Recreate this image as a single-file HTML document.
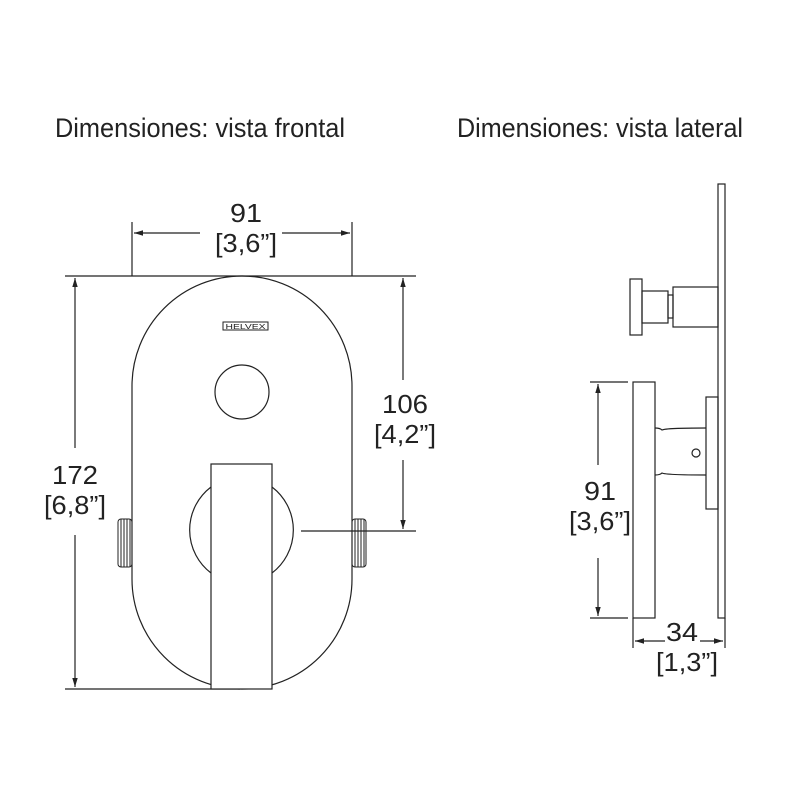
<!DOCTYPE html>
<html><head><style>body{margin:0;background:#fff}svg{display:block}</style></head>
<body>
<svg width="800" height="800" viewBox="0 0 800 800" xmlns="http://www.w3.org/2000/svg" font-family="Liberation Sans, sans-serif" fill="none" stroke="#222" stroke-width="1.2">
<defs>
<marker id="a" viewBox="0 0 10 10" refX="10" refY="5" markerWidth="9" markerHeight="9" orient="auto-start-reverse" markerUnits="userSpaceOnUse"><path d="M0,2 L10,5 L0,8 Z" fill="#222" stroke="none"/></marker>
</defs>
<g fill="#222" stroke="none" font-size="27">
<text x="55" y="137" textLength="290" lengthAdjust="spacingAndGlyphs">Dimensiones: vista frontal</text>
<text x="457" y="137" textLength="286" lengthAdjust="spacingAndGlyphs">Dimensiones: vista lateral</text>
</g>
<!-- front view -->
<rect x="132" y="276" width="220" height="413" rx="110" ry="110"/>
<line x1="132" y1="222" x2="132" y2="276"/><line x1="352" y1="222" x2="352" y2="276"/>
<line x1="134" y1="233" x2="200" y2="233" marker-start="url(#a)"/>
<line x1="282" y1="233" x2="350" y2="233" marker-end="url(#a)"/>
<line x1="65" y1="276" x2="416" y2="276"/>
<line x1="65" y1="689" x2="240" y2="689"/>
<line x1="75" y1="278" x2="75" y2="448" marker-start="url(#a)"/>
<line x1="75" y1="535" x2="75" y2="687" marker-end="url(#a)"/>
<line x1="403" y1="278" x2="403" y2="380" marker-start="url(#a)"/>
<line x1="403" y1="460" x2="403" y2="529" marker-end="url(#a)"/>
<line x1="301" y1="531" x2="416" y2="531"/>
<rect x="223" y="322" width="45" height="8" stroke-width="1"/>
<text x="245.5" y="329" font-size="7" fill="#222" stroke="none" text-anchor="middle" textLength="40" lengthAdjust="spacingAndGlyphs">HELVEX</text>
<circle cx="242" cy="392" r="27"/>
<path d="M211,487 A54,54 0 0 0 211,573"/><path d="M272,487 A54,54 0 0 1 272,573"/>
<rect x="211" y="464" width="61" height="225" fill="#fff"/>
<g stroke-width="1">
<rect x="118" y="519" width="14" height="48" rx="3"/>
<line x1="121" y1="519" x2="121" y2="567"/><line x1="124" y1="519" x2="124" y2="567"/><line x1="127" y1="519" x2="127" y2="567"/><line x1="130" y1="519" x2="130" y2="567"/>
<rect x="352" y="519" width="14" height="48" rx="3"/>
<line x1="355" y1="519" x2="355" y2="567"/><line x1="358" y1="519" x2="358" y2="567"/><line x1="361" y1="519" x2="361" y2="567"/><line x1="364" y1="519" x2="364" y2="567"/>
</g>
<g fill="#222" stroke="none" font-size="26" text-anchor="middle" lengthAdjust="spacingAndGlyphs">
<text x="246" y="222" textLength="32" lengthAdjust="spacingAndGlyphs">91</text><text x="246" y="252" textLength="62" lengthAdjust="spacingAndGlyphs">[3,6”]</text>
<text x="75" y="484" textLength="46" lengthAdjust="spacingAndGlyphs">172</text><text x="75" y="514" textLength="62" lengthAdjust="spacingAndGlyphs">[6,8”]</text>
<text x="405" y="413" textLength="46" lengthAdjust="spacingAndGlyphs">106</text><text x="405" y="443" textLength="62" lengthAdjust="spacingAndGlyphs">[4,2”]</text>
<text x="600" y="500" textLength="32" lengthAdjust="spacingAndGlyphs">91</text><text x="600" y="530" textLength="62" lengthAdjust="spacingAndGlyphs">[3,6”]</text>
<text x="682" y="641" textLength="32" lengthAdjust="spacingAndGlyphs">34</text><text x="687" y="671" textLength="62" lengthAdjust="spacingAndGlyphs">[1,3”]</text>
</g>
<!-- side view -->
<rect x="718" y="184" width="7" height="434"/>
<rect x="630" y="279" width="12" height="56"/>
<rect x="642" y="291" width="26" height="32"/>
<rect x="668" y="295" width="5" height="23"/>
<rect x="673" y="287" width="45" height="40"/>
<rect x="633" y="382" width="22" height="236"/>
<path d="M655,428 Q660,428 662,430 Q666,428 706,428 M655,475 Q660,475 662,473 Q666,475 706,475"/>
<rect x="706" y="397" width="12" height="112"/>
<circle cx="696" cy="453" r="4"/>
<line x1="590" y1="382" x2="628" y2="382"/><line x1="590" y1="618" x2="628" y2="618"/>
<line x1="598" y1="384" x2="598" y2="465" marker-start="url(#a)"/>
<line x1="598" y1="558" x2="598" y2="616" marker-end="url(#a)"/>
<line x1="633" y1="618" x2="633" y2="648"/><line x1="725" y1="618" x2="725" y2="648"/>
<line x1="635" y1="641" x2="665" y2="641" marker-start="url(#a)"/>
<line x1="700" y1="641" x2="723" y2="641" marker-end="url(#a)"/>
</svg>
</body></html>
